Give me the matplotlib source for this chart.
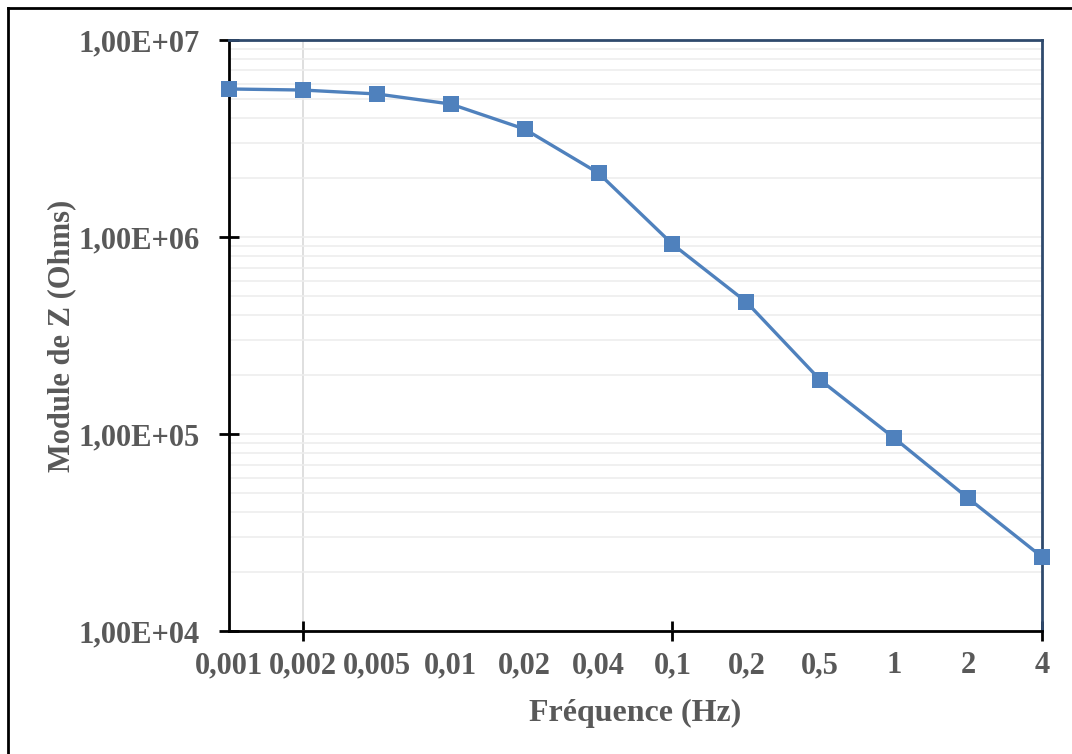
import matplotlib.pyplot as plt
from matplotlib.lines import Line2D
from matplotlib.ticker import LogLocator, NullFormatter

freq_labels = ['0,001', '0,002', '0,005', '0,01', '0,02', '0,04',
               '0,1', '0,2', '0,5', '1', '2', '4']
module_z = [5.64e6, 5.57e6, 5.32e6, 4.73e6, 3.53e6, 2.11e6,
            9.2e5, 4.68e5, 1.88e5, 9.55e4, 4.73e4, 2.38e4]
y_tick_values = [1e4, 1e5, 1e6, 1e7]
y_tick_labels = ['1,00E+04', '1,00E+05', '1,00E+06', '1,00E+07']

plt.rcParams['font.family'] = ['Liberation Serif', 'DejaVu Serif']
txt_color = '#595959'

fig = plt.figure(figsize=(10.72, 7.54), dpi=100)
ax = fig.add_axes([0.2136, 0.163, 0.7584, 0.784])

x = list(range(len(freq_labels)))
ax.plot(x, module_z, color='#4F81BD', lw=2.4, marker='s', ms=11,
        markeredgewidth=0, zorder=5, clip_on=False)

ax.set_yscale('log')
ax.set_ylim(1e4, 1e7)
ax.set_xlim(0, len(freq_labels) - 1)

# horizontal minor grid
ax.yaxis.set_minor_locator(LogLocator(base=10, subs=range(2, 10)))
ax.yaxis.set_minor_formatter(NullFormatter())
ax.grid(True, which='both', axis='y', color='#EDEDED', lw=1.2, zorder=0)
ax.tick_params(axis='y', which='minor', length=0)
ax.axvline(1, color='#D9D9D9', lw=1.2, zorder=0)

ax.set_yticks(y_tick_values)
ax.set_yticklabels(y_tick_labels)
ax.tick_params(axis='y', which='major', direction='inout', length=14,
               width=2, color='black', labelsize=22, labelcolor=txt_color, pad=14)

# x labels at every category, ticks only at a few
ax.set_xticks([1, 6, 11])
ax.set_xticklabels([])
ax.tick_params(axis='x', direction='inout', length=14, width=2, color='black')
for i, lab in enumerate(freq_labels):
    ax.text(i, -0.034, lab, transform=ax.get_xaxis_transform(), ha='center',
            va='top', fontsize=22, fontweight='bold', color=txt_color)
for t in ax.get_yticklabels():
    t.set_fontweight('bold')

ax.set_xlabel('Fréquence (Hz)', fontsize=23, fontweight='bold', color=txt_color,
              labelpad=38)
ax.set_ylabel('Module de Z (Ohms)', fontsize=22, fontweight='bold', color=txt_color,
              labelpad=2)

ax.spines['left'].set_color('black')
ax.spines['bottom'].set_color('black')
ax.spines['left'].set_linewidth(2)
ax.spines['bottom'].set_linewidth(2)
ax.spines['top'].set_color('#2F4A6D')
ax.spines['right'].set_color('#2F4A6D')
ax.spines['top'].set_linewidth(2)
ax.spines['right'].set_linewidth(2)

# outer frame (top and left edges visible)
fig.add_artist(Line2D([0.0075, 1], [0.9894, 0.9894], color='black', lw=2,
                      transform=fig.transFigure))
fig.add_artist(Line2D([0.0075, 0.0075], [0, 0.9894], color='black', lw=2,
                      transform=fig.transFigure))

fig.savefig('out.png', dpi=100)
